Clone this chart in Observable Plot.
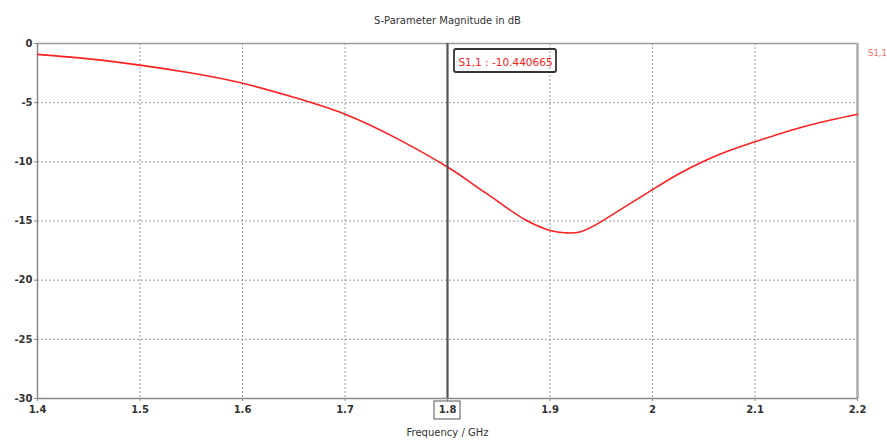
<!DOCTYPE html>
<html>
<head>
<meta charset="utf-8">
<script src="https://cdn.jsdelivr.net/npm/d3@7"></script>
<script src="https://cdn.jsdelivr.net/npm/@observablehq/plot@0.6"></script>
<style>
  html, body { margin: 0; padding: 0; background: #fff; }
  #chart svg { display: block; }
</style>
</head>
<body>
<div id="chart"></div>
<script>
// S11 reflection sweep (dB) over frequency (GHz)
const freqGHz = [1.40, 1.45, 1.50, 1.55, 1.60, 1.65, 1.70, 1.75, 1.80, 1.825, 1.85, 1.875, 1.90, 1.915, 1.93, 1.95, 1.975, 2.00, 2.025, 2.05, 2.075, 2.10, 2.125, 2.15, 2.175, 2.20];
const s11dB   = [-0.92, -1.30, -1.83, -2.50, -3.36, -4.55, -5.97, -8.00, -10.44, -11.90, -13.40, -14.85, -15.80, -16.00, -15.90, -15.05, -13.70, -12.35, -11.05, -9.95, -9.05, -8.30, -7.60, -6.97, -6.44, -5.98];

const xTicks = [1.4, 1.5, 1.6, 1.7, 1.8, 1.9, 2.0, 2.1, 2.2];
const yTicks = [0, -5, -10, -15, -20, -25, -30];

const markerFreq = 1.8;
const markerValue = -10.440665;
const seriesName = "S1,1";
const titleText = "S-Parameter Magnitude in dB";
const xLabel = "Frequency / GHz";

const curve = freqGHz.map((f, i) => ({f, db: s11dB[i]}));
const fmt = d => String(+d.toFixed(1));
const font = "DejaVu Sans, Verdana, sans-serif";

const chart = Plot.plot({
  width: 887,
  height: 440,
  marginLeft: 37,
  marginRight: 30,
  marginTop: 43,
  marginBottom: 42,
  style: {fontFamily: font, fontSize: "10px", color: "#333", background: "#fff", overflow: "visible"},
  x: {domain: [1.4, 2.2]},
  y: {domain: [-30, 0]},
  marks: [
    // dotted grid
    Plot.gridX(xTicks.slice(1, -1), {stroke: "#999", strokeOpacity: 1, strokeDasharray: "2,2"}),
    Plot.gridY(yTicks.slice(1, -1), {stroke: "#999", strokeOpacity: 1, strokeDasharray: "2,2"}),
    // plot frame
    Plot.ruleY([0], {stroke: "#999", strokeWidth: 1.5}),
    Plot.ruleX([2.2], {stroke: "#aaa", strokeWidth: 2.5}),
    Plot.ruleX([1.4], {stroke: "#888", strokeWidth: 1.5}),
    Plot.ruleY([-30], {stroke: "#888", strokeWidth: 1.5}),
    // axes
    Plot.axisX(xTicks, {tickSize: 3, tickPadding: 4, tickFormat: fmt, stroke: "#888", fill: "#333", fontWeight: "bold", fontSize: 10, label: null}),
    Plot.axisY(yTicks, {tickSize: 3, tickPadding: 2, tickFormat: d => String(d), stroke: "#888", fill: "#333", fontWeight: "bold", fontSize: 10, label: null}),
    // the S11 trace
    Plot.line(curve, {x: "f", y: "db", stroke: "#ff2020", strokeWidth: 1.6, curve: "natural"}),
    // marker line at the probed frequency
    Plot.ruleX([markerFreq], {stroke: "#555", strokeWidth: 2.2}),
    // marker readout
    Plot.text([markerValue], {
      x: markerFreq, frameAnchor: "top", dx: 58, dy: 19,
      text: d => `${seriesName} : ${d}`, fill: "#ff2020", fontSize: 10.5, lineAnchor: "middle"
    }),
    // chart title
    Plot.text([titleText], {frameAnchor: "top", dy: -23, text: d => d, fill: "#333", fontSize: 10, lineAnchor: "middle"}),
    // axis title
    Plot.text([xLabel], {frameAnchor: "bottom", dy: 34, text: d => d, fill: "#333", fontSize: 10, lineAnchor: "middle"}),
    // legend entry
    Plot.text([seriesName], {frameAnchor: "top-right", dx: 20, dy: 10, textAnchor: "middle", text: d => d, fill: "#ff6a6a", fontSize: 8.5, lineAnchor: "middle"})
  ]
});

// Boxes around the marker readout and the marker tick label
const svg = d3.select(chart);
const xs = chart.scale("x");
const ys = chart.scale("y");
const mx = xs.apply(markerFreq);
const top0 = ys.apply(0);
const bot = ys.apply(-30);
svg.append("rect")
  .attr("x", mx + 7).attr("y", top0 + 6).attr("width", 102).attr("height", 23).attr("rx", 2)
  .attr("fill", "none").attr("stroke", "#333").attr("stroke-width", 1.8);
svg.append("rect")
  .attr("x", mx - 13).attr("y", bot + 3).attr("width", 26).attr("height", 18)
  .attr("fill", "none").attr("stroke", "#555").attr("stroke-width", 1);

document.getElementById("chart").append(chart);
</script>
</body>
</html>
